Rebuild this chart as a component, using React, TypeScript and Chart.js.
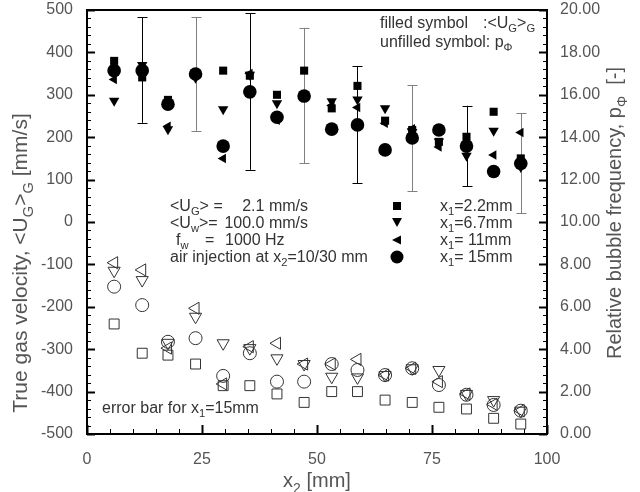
import React, { useEffect, useRef } from 'react';
import { Chart, registerables } from 'chart.js';

Chart.register(...registerables);

// x2 positions [mm]
const X2 = [5.9, 12, 17.6, 23.6, 29.6, 35.4, 41.3, 47.2, 53.2, 58.8, 64.8, 70.7, 76.5, 82.5, 88.4, 94.3];

// filled symbols: true gas velocity <UG>G [mm/s]
const UG_X1_22 = [380, 341, 288, 350, 357, 345, 300, 357, 268, 321, 239, 217, 189, 201, 260, 150];
const UG_X1_67 = [286, 370, 219, 340, 266, 347, 280, 300, 285, 289, 268, 212, 190, 156, 215, 130];
const UG_X1_11 = [336, 362, 226, 352, 150, 350, 240, 295, 275, 270, 233, 220, 177, 180, 158, 211];
const UG_X1_15 = [357, 357, 278, 349, 179, 307, 247, 297, 219, 229, 170, 198, 217, 179, 119, 138];

// error bars for x1 = 15 mm
const ERR_IDX = [1, 3, 5, 7, 9, 11, 13, 15];
const ERR_LO = [234, 215, 123, 139, 92, 73, 85, 21];
const ERR_HI = [483, 483, 492, 458, 368, 323, 274, 257];

// unfilled symbols: relative bubble frequency pΦ [-]
const P_X1_22 = [5.19, 3.81, 3.72, 3.3, 2.28, 2.28, 1.89, 1.49, 2.0, 2.0, 1.6, 1.49, 1.26, 1.18, 0.74, 0.47];
const P_X1_67 = [7.7, 7.26, 4.3, 5.53, 4.28, 4.05, 3.57, 3.3, 2.7, 2.67, 2.78, 3.1, 3.02, 1.89, 1.6, 1.1];
const P_X1_11 = [8.08, 7.74, 4.05, 5.93, 2.36, 4.12, 4.28, 3.3, 3.3, 3.52, 2.78, 3.1, 2.47, 1.89, 1.4, 1.1];
const P_X1_15 = [6.95, 6.08, 4.35, 4.52, 2.74, 3.81, 2.47, 2.47, 3.3, 3.02, 2.78, 3.1, 2.31, 1.85, 1.37, 1.1];

// axis ranges
const X_MIN = 0, X_MAX = 100, X_STEP = 25, X_MINOR = 5;
const Y_MIN = -500, Y_MAX = 500, Y_STEP = 100, Y_MINOR = 20;
const Y2_MIN = 0, Y2_MAX = 20, Y2_STEP = 2, Y2_MINOR = 0.4;

const FONT = '"Liberation Sans", Arial, Helvetica, sans-serif';
const AXIS_COLOR = '#555';
const TEXT_COLOR = '#333';

type Seg = { t: string; sub?: boolean };

function fontOf(size: number) {
  return `${size}px ${FONT}`;
}

function richWidth(ctx: CanvasRenderingContext2D, segs: Seg[], size: number) {
  let w = 0;
  for (const s of segs) {
    ctx.font = fontOf(s.sub ? size * 0.7 : size);
    w += ctx.measureText(s.t).width;
  }
  return w;
}

function rich(ctx: CanvasRenderingContext2D, segs: Seg[], x: number, y: number, size: number, align: 'left' | 'center' | 'right' = 'left') {
  const w = richWidth(ctx, segs, size);
  let cx = align === 'center' ? x - w / 2 : align === 'right' ? x - w : x;
  ctx.textAlign = 'left';
  ctx.textBaseline = 'alphabetic';
  for (const s of segs) {
    const sz = s.sub ? size * 0.7 : size;
    ctx.font = fontOf(sz);
    ctx.fillText(s.t, cx, s.sub ? y + size * 0.28 : y);
    cx += ctx.measureText(s.t).width;
  }
}

const toPts = (ys: number[]) => ys.map((y, i) => ({ x: X2[i], y }));

const decorPlugin = {
  id: 'decor',
  beforeDatasetsDraw(chart: any) {
    const { ctx, scales } = chart;
    ctx.save();
    ctx.lineWidth = 1;
    ERR_IDX.forEach((idx, k) => {
      const x = Math.round(scales.x.getPixelForValue(X2[idx])) + 0.5;
      const yl = scales.y.getPixelForValue(ERR_LO[k]);
      const yh = scales.y.getPixelForValue(ERR_HI[k]);
      ctx.strokeStyle = k % 2 === 0 ? '#000' : '#808080';
      ctx.beginPath();
      ctx.moveTo(x, yl);
      ctx.lineTo(x, yh);
      ctx.moveTo(x - 5, Math.round(yl) + 0.5);
      ctx.lineTo(x + 5, Math.round(yl) + 0.5);
      ctx.moveTo(x - 5, Math.round(yh) + 0.5);
      ctx.lineTo(x + 5, Math.round(yh) + 0.5);
      ctx.stroke();
    });
    ctx.restore();
  },
  afterDraw(chart: any) {
    const { ctx, chartArea: a, scales } = chart;
    ctx.save();
    ctx.strokeStyle = '#000';
    const hline = (x1: number, y: number, x2: number, lw: number) => {
      ctx.lineWidth = lw;
      ctx.beginPath();
      ctx.moveTo(x1, y);
      ctx.lineTo(x2, y);
      ctx.stroke();
    };
    const vline = (x: number, y1: number, y2: number, lw: number) => {
      ctx.lineWidth = lw;
      ctx.beginPath();
      ctx.moveTo(x, y1);
      ctx.lineTo(x, y2);
      ctx.stroke();
    };
    const nY = Math.round((Y_MAX - Y_MIN) / Y_MINOR);
    for (let i = 0; i <= nY; i++) {
      const v = Y_MIN + i * Y_MINOR;
      const major = (v - Y_MIN) % Y_STEP === 0;
      const y = Math.round(scales.y.getPixelForValue(v)) + 0.5;
      hline(a.left, y, a.left + (major ? 8 : 4), major ? 2 : 1);
    }
    const nY2 = Math.round((Y2_MAX - Y2_MIN) / Y2_MINOR);
    const per = Math.round(Y2_STEP / Y2_MINOR);
    for (let i = 0; i <= nY2; i++) {
      const v = Y2_MIN + i * Y2_MINOR;
      const major = i % per === 0;
      const y = Math.round(scales.y2.getPixelForValue(v)) + 0.5;
      hline(a.right - (major ? 8 : 4), y, a.right, major ? 2 : 1);
    }
    const nX = Math.round((X_MAX - X_MIN) / X_MINOR);
    const perX = Math.round(X_STEP / X_MINOR);
    for (let i = 0; i <= nX; i++) {
      const v = X_MIN + i * X_MINOR;
      const major = i % perX === 0;
      const x = Math.round(scales.x.getPixelForValue(v)) + 0.5;
      vline(x, a.bottom - (major ? 9 : 5), a.bottom, major ? 2 : 1);
    }
    ctx.lineWidth = 2;
    ctx.strokeRect(a.left, a.top, a.right - a.left, a.bottom - a.top);

    // axis titles
    ctx.fillStyle = AXIS_COLOR;
    rich(ctx, [{ t: 'x' }, { t: '2', sub: true }, { t: ' [mm]' }], (a.left + a.right) / 2, 487, 20, 'center');
    ctx.save();
    ctx.translate(27, 263);
    ctx.rotate(-Math.PI / 2);
    rich(ctx, [{ t: 'True gas velocity, <U' }, { t: 'G', sub: true }, { t: '>' }, { t: 'G', sub: true }, { t: ' [mm/s]' }], 0, 0, 21, 'center');
    ctx.restore();
    ctx.save();
    ctx.translate(621, 213);
    ctx.rotate(-Math.PI / 2);
    rich(ctx, [{ t: 'Relative bubble frequency, p' }, { t: 'Φ', sub: true }, { t: '  [-]' }], 0, 0, 20, 'center');
    ctx.restore();

    // annotations
    ctx.fillStyle = TEXT_COLOR;
    const fs = 16;
    rich(ctx, [{ t: 'filled symbol' }], 380, 28, fs);
    rich(ctx, [{ t: ':<U' }, { t: 'G', sub: true }, { t: '>' }, { t: 'G', sub: true }], 483, 28, fs);
    rich(ctx, [{ t: 'unfilled symbol: p' }, { t: 'Φ', sub: true }], 380, 47, fs);

    rich(ctx, [{ t: '<U' }, { t: 'G', sub: true }, { t: '> =' }], 170, 211, fs);
    rich(ctx, [{ t: '2.1 mm/s' }], 308, 211, fs, 'right');
    rich(ctx, [{ t: '<U' }, { t: 'w', sub: true }, { t: '>=' }], 170, 228, fs);
    rich(ctx, [{ t: '100.0 mm/s' }], 308, 228, fs, 'right');
    rich(ctx, [{ t: 'f' }, { t: 'w', sub: true }], 176, 245, fs);
    rich(ctx, [{ t: '=' }], 205, 245, fs);
    rich(ctx, [{ t: '1000 Hz' }], 225, 245, fs);
    rich(ctx, [{ t: 'air injection at x' }, { t: '2', sub: true }, { t: '=10/30 mm' }], 170, 262, fs);

    const lx = 397;
    ctx.fillStyle = '#000';
    ctx.fillRect(lx - 4, 202, 8, 8);
    ctx.beginPath();
    ctx.moveTo(lx - 5, 218);
    ctx.lineTo(lx + 5, 218);
    ctx.lineTo(lx, 227);
    ctx.closePath();
    ctx.fill();
    ctx.beginPath();
    ctx.moveTo(lx - 5, 240);
    ctx.lineTo(lx + 4, 235.5);
    ctx.lineTo(lx + 4, 244.5);
    ctx.closePath();
    ctx.fill();
    ctx.beginPath();
    ctx.arc(lx, 257, 6.5, 0, Math.PI * 2);
    ctx.fill();

    ctx.fillStyle = TEXT_COLOR;
    rich(ctx, [{ t: 'x' }, { t: '1', sub: true }, { t: '=2.2mm' }], 440, 211, fs);
    rich(ctx, [{ t: 'x' }, { t: '1', sub: true }, { t: '=6.7mm' }], 440, 228, fs);
    rich(ctx, [{ t: 'x' }, { t: '1', sub: true }, { t: '= 11mm' }], 440, 245, fs);
    rich(ctx, [{ t: 'x' }, { t: '1', sub: true }, { t: '= 15mm' }], 440, 262, fs);

    rich(ctx, [{ t: 'error bar for x' }, { t: '1', sub: true }, { t: '=15mm' }], 102, 413, fs);
    ctx.restore();
  },
};

export default function App() {
  const ref = useRef<HTMLCanvasElement | null>(null);
  useEffect(() => {
    if (!ref.current) return;
    const filled = (label: string, data: number[], style: any, radius: number, rotation = 0) => ({
      label,
      data: toPts(data),
      yAxisID: 'y',
      pointStyle: style,
      pointRadius: radius,
      pointRotation: rotation,
      backgroundColor: '#000',
      borderColor: '#000',
      borderWidth: 0,
      showLine: false,
    });
    const open = (label: string, data: number[], style: any, radius: number, rotation = 0) => ({
      label,
      data: toPts(data),
      yAxisID: 'y2',
      pointStyle: style,
      pointRadius: radius,
      pointRotation: rotation,
      backgroundColor: 'rgba(0,0,0,0)',
      borderColor: '#333',
      borderWidth: 1,
      showLine: false,
    });
    const tickFont = { family: FONT, size: 16 };
    const fitV = (w: number) => (s: any) => {
      s.width = w;
      s.paddingTop = 0;
      s.paddingBottom = 0;
    };
    const chart = new Chart(ref.current, {
      type: 'scatter',
      data: {
        datasets: [
          filled('x1=2.2mm', UG_X1_22, 'rect', 5.7),
          filled('x1=6.7mm', UG_X1_67, 'triangle', 6, 180),
          filled('x1=11mm', UG_X1_11, 'triangle', 5.5, 270),
          filled('x1=15mm', UG_X1_15, 'circle', 6.8),
          open('p x1=2.2mm', P_X1_22, 'rect', 7),
          open('p x1=6.7mm', P_X1_67, 'triangle', 7, 180),
          open('p x1=11mm', P_X1_11, 'triangle', 7, 270),
          open('p x1=15mm', P_X1_15, 'circle', 6.5),
        ] as any,
      },
      options: {
        animation: false,
        responsive: true,
        maintainAspectRatio: false,
        layout: { padding: { top: 10, left: 0, right: 0, bottom: 0 } },
        plugins: { legend: { display: false }, tooltip: { enabled: false } },
        scales: {
          x: {
            type: 'linear',
            min: X_MIN,
            max: X_MAX,
            grid: { display: false },
            border: { display: false },
            ticks: { stepSize: X_STEP, font: tickFont, color: AXIS_COLOR, padding: 8, autoSkip: false, maxRotation: 0 },
            afterFit: (s: any) => { s.height = 58; s.paddingLeft = 0; s.paddingRight = 0; },
          },
          y: {
            type: 'linear',
            position: 'left',
            min: Y_MIN,
            max: Y_MAX,
            grid: { display: false },
            border: { display: false },
            ticks: { stepSize: Y_STEP, font: tickFont, color: AXIS_COLOR, padding: 6, autoSkip: false },
            afterFit: fitV(87),
          },
          y2: {
            type: 'linear',
            position: 'right',
            min: Y2_MIN,
            max: Y2_MAX,
            grid: { display: false },
            border: { display: false },
            ticks: {
              stepSize: Y2_STEP,
              font: tickFont,
              color: AXIS_COLOR,
              padding: 5,
              autoSkip: false,
              callback: (v: any) => Number(v).toFixed(2),
            },
            afterFit: fitV(93),
          },
        },
      } as any,
      plugins: [decorPlugin],
    });
    return () => chart.destroy();
  }, []);
  return (
    <div style={{ position: 'absolute', left: 0, top: 0, width: 640, height: 492, background: '#fff' }}>
      <canvas ref={ref} />
    </div>
  );
}
